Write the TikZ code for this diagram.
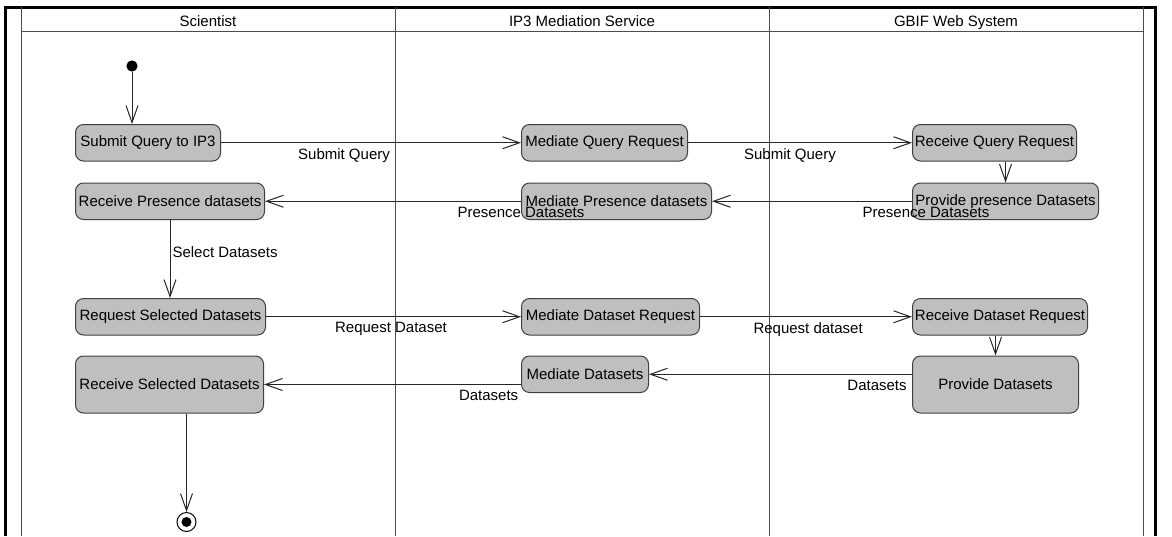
\documentclass[tikz,border=0pt]{standalone}
\usepackage{fontspec}
\setmainfont{Liberation Sans}
\usetikzlibrary{arrows.meta,positioning}

\begin{document}
\begin{tikzpicture}[x=1pt,y=-1pt,font=\fontsize{7.5}{9}\selectfont]
	\tikzstyle{act}
	  =[draw=black!75, fill=gray!50, rounded corners=4pt, line width=0.5pt,
	  minimum height=18.25pt, inner sep=1pt, text centered]
	\tikzstyle{flow}
	  =[black!85, line width=0.5pt, -{Straight Barb[length=8.5pt,width=6pt]}]
	\tikzstyle{lbl}
	  =[black, inner sep=2.5pt]
	\tikzstyle{lane}
	  =[black!70, line width=0.5pt]
	\tikzstyle{lanetitle}
	  =[anchor=base, inner sep=0pt]

	\useasboundingbox (0,0) rectangle (586,268);

	% swimlanes
	\draw[line width=1.5pt] (2.5,268) -- (2.5,3.5) -- (577.5,3.5) -- (577.5,268);
	\foreach \x in {10.5,197.5,384.5,571.5}
	  \draw[lane] (\x,3.5) -- (\x,268);
	\draw[lane] (10.5,15.85) -- (571.5,15.85);
	\node[lanetitle] (scientist) at (104,13.3) {Scientist};
	\node[lanetitle] (mediation) at (291,13.3) {IP3 Mediation Service};
	\node[lanetitle] (gbif) at (478,13.3) {GBIF Web System};

	% Scientist
	\node[circle, fill=black, inner sep=0pt, minimum size=5.6pt] (start)
	  at (66,33) {};
	\node[act, minimum width=72.5pt, anchor=north west] (submit)
	  at (37.5,62) {Submit Query to IP3};
	\node[act, minimum width=94.5pt] (recpres)
	  [below=10.5pt of submit.south west, anchor=north west] {Receive Presence datasets};
	\node[act, minimum width=95pt] (reqsel)
	  [below=39pt of recpres.south west, anchor=north west] {Request Selected Datasets};
	\node[act, minimum width=94pt, minimum height=28.5pt] (recsel)
	  [below=10pt of reqsel.south west, anchor=north west] {Receive Selected Datasets};
	\node[circle, draw, line width=0.5pt, inner sep=0pt, minimum size=9.5pt] (stop)
	  at (93.25,261) {};
	\fill (stop.center) circle (2.5pt);

	% IP3 Mediation Service
	\node[act, minimum width=83pt] (medquery)
	  [right=150pt of submit] {Mediate Query Request};
	\node[act, minimum width=95pt] (medpres)
	  [below=10.5pt of medquery.south west, anchor=north west] {Mediate Presence datasets};
	\node[act, minimum width=89pt] (medreq)
	  [right=127.5pt of reqsel] {Mediate Dataset Request};
	\node[act, minimum width=63.5pt] (meddata)
	  [below=10pt of medreq.south west, anchor=north west] {Mediate Datasets};

	% GBIF Web System
	\node[act, minimum width=82pt] (recquery)
	  [right=112pt of medquery] {Receive Query Request};
	\node[act, minimum width=93pt] (provpres)
	  [below=10.5pt of recquery.south west, anchor=north west] {Provide presence Datasets};
	\node[act, minimum width=87.5pt] (recreq)
	  [right=106pt of medreq] {Receive Dataset Request};
	\node[act, minimum width=83pt, minimum height=28.5pt] (provdata)
	  [below=10pt of recreq.south west, anchor=north west] {Provide Datasets};

	% flows
	\draw[flow] (start) -- (start |- submit.north);
	\draw[flow] (submit) -- (medquery)
	  node[lbl, below, pos=0.41] (lquery1) {Submit Query};
	\draw[flow] (medquery) -- (recquery)
	  node[lbl, below, pos=0.455] (lquery2) {Submit Query};
	\draw[flow] (recquery.south -| provpres.north) -- (provpres.north);
	\draw[flow] (provpres) -- (medpres)
	  node[lbl, below, pos=-0.07] (lpres2) {Presence Datasets};
	\draw[flow] (medpres) -- (recpres)
	  node[lbl, below, pos=0] (lpres1) {Presence Datasets};
	\draw[flow] (recpres.south) -- (recpres.south |- reqsel.north)
	  node[lbl, right, pos=0.41, inner sep=1pt] (lselect) {Select Datasets};
	\draw[flow] (reqsel) -- (medreq)
	  node[lbl, below, pos=0.49] (lreq1) {Request Dataset};
	\draw[flow] (medreq) -- (recreq)
	  node[lbl, below, pos=0.51] (lreq2) {Request dataset};
	\draw[flow] (recreq.south -| provdata.north) -- (provdata.north);
	\draw[flow] (meddata.east -| provdata.west) -- (meddata.east)
	  node[lbl, below, pos=0.133] (ldata2) {Datasets};
	\draw[flow] (recsel.east -| meddata.west) -- (recsel.east)
	  node[lbl, below, pos=0.126] (ldata1) {Datasets};
	\draw[flow] (recsel.south -| stop.north) -- (stop.north);
\end{tikzpicture}
\end{document}
